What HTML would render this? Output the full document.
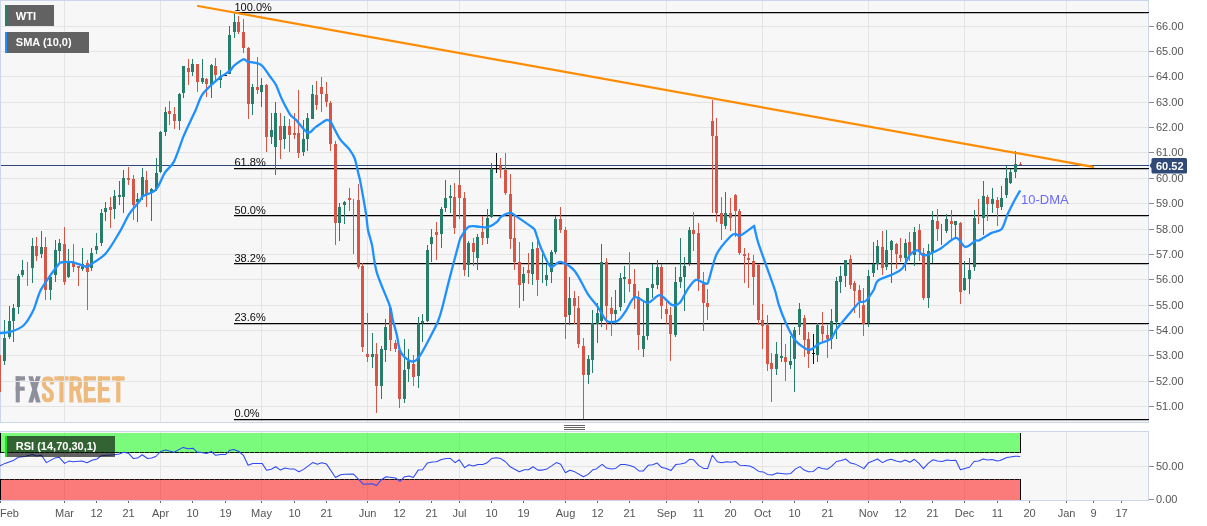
<!DOCTYPE html>
<html><head><meta charset="utf-8"><title>WTI</title>
<style>html,body{margin:0;padding:0;background:#fff;}body{width:1207px;height:526px;overflow:hidden;position:relative;font-family:"Liberation Sans",sans-serif;}</style>
</head><body>
<svg width="1207" height="526" viewBox="0 0 1207 526" style="position:absolute;left:0;top:0;font-family:'Liberation Sans',sans-serif">
<rect x="0" y="0" width="1207" height="526" fill="#ffffff"/>
<rect x="0" y="0" width="1149" height="423" fill="#f7f7f7"/>
<g id="logo">
<rect x="15.70" y="376.30" width="4.10" height="26.10" fill="#8e909d"/>
<rect x="15.70" y="376.30" width="9.30" height="4.20" fill="#8e909d"/>
<rect x="15.70" y="386.60" width="9.00" height="4.10" fill="#8e909d"/>
<polygon points="28.3,376.3 32.9,376.3 40.7,402.4 36.1,402.4" fill="#8e909d"/>
<polygon points="36.1,376.3 40.7,376.3 32.9,402.4 28.3,402.4" fill="#8e909d"/>
<path d="M51.9,384.6 V382.6 Q51.9,378.4 47.9,378.4 Q43.9,378.4 43.9,382.6 V384 Q43.9,386.6 47.9,389.3 Q51.9,392 51.9,394.8 V396.2 Q51.9,400.3 47.9,400.3 Q43.9,400.3 43.9,396.2 V393.6" fill="none" stroke="#edb97d" stroke-width="4.1"/>
<rect x="54.40" y="376.30" width="14.20" height="4.20" fill="#edb97d"/>
<rect x="59.40" y="376.30" width="4.20" height="26.10" fill="#edb97d"/>
<rect x="69.40" y="376.30" width="4.10" height="26.10" fill="#edb97d"/>
<path d="M71.4,378.4 H76 Q80,378.4 80,382.4 V384.6 Q80,388.6 76,388.6 H71.4" fill="none" stroke="#edb97d" stroke-width="4.1"/>
<polygon points="75.2,389.5 79.4,388.6 82.4,402.4 78.1,402.4" fill="#edb97d"/>
<rect x="83.80" y="376.30" width="4.10" height="26.10" fill="#edb97d"/>
<rect x="83.80" y="376.30" width="12.20" height="4.20" fill="#edb97d"/>
<rect x="83.80" y="387.00" width="11.00" height="4.10" fill="#edb97d"/>
<rect x="83.80" y="398.20" width="12.20" height="4.20" fill="#edb97d"/>
<rect x="97.90" y="376.30" width="4.10" height="26.10" fill="#edb97d"/>
<rect x="97.90" y="376.30" width="12.20" height="4.20" fill="#edb97d"/>
<rect x="97.90" y="387.00" width="11.00" height="4.10" fill="#edb97d"/>
<rect x="97.90" y="398.20" width="12.20" height="4.20" fill="#edb97d"/>
<rect x="111.90" y="376.30" width="12.80" height="4.20" fill="#edb97d"/>
<rect x="116.20" y="376.30" width="4.20" height="26.10" fill="#edb97d"/>
</g>
<g shape-rendering="crispEdges">
<rect x="0" y="431" width="1149" height="70" fill="#f7f7f7"/>
<rect x="1" y="26" width="1147" height="1" fill="#e4e4e4"/>
<rect x="1" y="51" width="1147" height="1" fill="#e4e4e4"/>
<rect x="1" y="76" width="1147" height="1" fill="#e4e4e4"/>
<rect x="1" y="102" width="1147" height="1" fill="#e4e4e4"/>
<rect x="1" y="127" width="1147" height="1" fill="#e4e4e4"/>
<rect x="1" y="152" width="1147" height="1" fill="#e4e4e4"/>
<rect x="1" y="178" width="1147" height="1" fill="#e4e4e4"/>
<rect x="1" y="203" width="1147" height="1" fill="#e4e4e4"/>
<rect x="1" y="229" width="1147" height="1" fill="#e4e4e4"/>
<rect x="1" y="254" width="1147" height="1" fill="#e4e4e4"/>
<rect x="1" y="279" width="1147" height="1" fill="#e4e4e4"/>
<rect x="1" y="305" width="1147" height="1" fill="#e4e4e4"/>
<rect x="1" y="330" width="1147" height="1" fill="#e4e4e4"/>
<rect x="1" y="355" width="1147" height="1" fill="#e4e4e4"/>
<rect x="1" y="381" width="1147" height="1" fill="#e4e4e4"/>
<rect x="1" y="406" width="1147" height="1" fill="#e4e4e4"/>
<rect x="64" y="1" width="1" height="421" fill="#e4e4e4"/>
<rect x="64" y="432" width="1" height="68" fill="#e4e4e4"/>
<rect x="160" y="1" width="1" height="421" fill="#e4e4e4"/>
<rect x="160" y="432" width="1" height="68" fill="#e4e4e4"/>
<rect x="261" y="1" width="1" height="421" fill="#e4e4e4"/>
<rect x="261" y="432" width="1" height="68" fill="#e4e4e4"/>
<rect x="367" y="1" width="1" height="421" fill="#e4e4e4"/>
<rect x="367" y="432" width="1" height="68" fill="#e4e4e4"/>
<rect x="459" y="1" width="1" height="421" fill="#e4e4e4"/>
<rect x="459" y="432" width="1" height="68" fill="#e4e4e4"/>
<rect x="565" y="1" width="1" height="421" fill="#e4e4e4"/>
<rect x="565" y="432" width="1" height="68" fill="#e4e4e4"/>
<rect x="666" y="1" width="1" height="421" fill="#e4e4e4"/>
<rect x="666" y="432" width="1" height="68" fill="#e4e4e4"/>
<rect x="762" y="1" width="1" height="421" fill="#e4e4e4"/>
<rect x="762" y="432" width="1" height="68" fill="#e4e4e4"/>
<rect x="868" y="1" width="1" height="421" fill="#e4e4e4"/>
<rect x="868" y="432" width="1" height="68" fill="#e4e4e4"/>
<rect x="964" y="1" width="1" height="421" fill="#e4e4e4"/>
<rect x="964" y="432" width="1" height="68" fill="#e4e4e4"/>
<rect x="1066" y="1" width="1" height="421" fill="#e4e4e4"/>
<rect x="1066" y="432" width="1" height="68" fill="#e4e4e4"/>
<rect x="1" y="466" width="1147" height="1" fill="#e4e4e4"/>
<rect x="0" y="0" width="1149" height="1" fill="#cdd5ea"/>
<rect x="0" y="0" width="1" height="423" fill="#cdd5ea"/>
<rect x="1148" y="0" width="1" height="423" fill="#cdd5ea"/>
<rect x="0" y="422" width="1149" height="1" fill="#cdd5ea"/>
<rect x="0" y="431" width="1149" height="1" fill="#cdd5ea"/>
<rect x="0" y="431" width="1" height="70" fill="#cdd5ea"/>
<rect x="1148" y="431" width="1" height="70" fill="#cdd5ea"/>
<rect x="0" y="500" width="1149" height="1" fill="#cdd5ea"/>
<rect x="564" y="425" width="21" height="1" fill="#666666"/>
<rect x="564" y="427" width="21" height="1" fill="#666666"/>
<rect x="564" y="429" width="21" height="1" fill="#666666"/>
<rect x="234" y="12" width="915" height="1" fill="#000000"/>
<rect x="234" y="13" width="914" height="1" fill="#000000" opacity="0.25"/>
<rect x="234" y="168" width="915" height="1" fill="#000000"/>
<rect x="234" y="169" width="914" height="1" fill="#000000" opacity="0.25"/>
<rect x="234" y="215" width="915" height="1" fill="#000000"/>
<rect x="234" y="216" width="914" height="1" fill="#000000" opacity="0.25"/>
<rect x="234" y="263" width="915" height="1" fill="#000000"/>
<rect x="234" y="264" width="914" height="1" fill="#000000" opacity="0.25"/>
<rect x="234" y="323" width="915" height="1" fill="#000000"/>
<rect x="234" y="324" width="914" height="1" fill="#000000" opacity="0.25"/>
<rect x="234" y="419" width="915" height="1" fill="#000000"/>
<rect x="234" y="420" width="914" height="1" fill="#000000" opacity="0.25"/>
<rect x="1" y="165" width="1148" height="1" fill="#2f4a76"/>
<rect x="-1" y="355" width="1" height="37" fill="#d75546"/>
<rect x="0" y="355" width="1" height="37" fill="#d75546"/>
<rect x="4" y="320" width="1" height="45" fill="#267d69"/>
<rect x="3" y="338" width="3" height="23" fill="#267d69"/>
<rect x="9" y="306" width="1" height="33" fill="#267d69"/>
<rect x="8" y="321" width="3" height="16" fill="#267d69"/>
<rect x="13" y="304" width="1" height="38" fill="#267d69"/>
<rect x="12" y="308" width="3" height="13" fill="#267d69"/>
<rect x="18" y="274" width="1" height="40" fill="#267d69"/>
<rect x="17" y="276" width="3" height="31" fill="#267d69"/>
<rect x="22" y="260" width="1" height="17" fill="#267d69"/>
<rect x="21" y="270" width="3" height="5" fill="#267d69"/>
<rect x="27" y="262" width="1" height="24" fill="#d75546"/>
<rect x="32" y="238" width="1" height="45" fill="#267d69"/>
<rect x="31" y="246" width="3" height="22" fill="#267d69"/>
<rect x="36" y="237" width="1" height="24" fill="#d75546"/>
<rect x="35" y="246" width="3" height="10" fill="#d75546"/>
<rect x="41" y="231" width="1" height="27" fill="#267d69"/>
<rect x="40" y="247" width="3" height="7" fill="#267d69"/>
<rect x="45" y="237" width="1" height="63" fill="#d75546"/>
<rect x="44" y="247" width="3" height="43" fill="#d75546"/>
<rect x="50" y="275" width="1" height="25" fill="#267d69"/>
<rect x="49" y="277" width="3" height="13" fill="#267d69"/>
<rect x="55" y="240" width="1" height="42" fill="#267d69"/>
<rect x="54" y="250" width="3" height="25" fill="#267d69"/>
<rect x="59" y="239" width="1" height="23" fill="#267d69"/>
<rect x="58" y="243" width="3" height="8" fill="#267d69"/>
<rect x="64" y="227" width="1" height="58" fill="#d75546"/>
<rect x="63" y="244" width="3" height="38" fill="#d75546"/>
<rect x="68" y="249" width="1" height="29" fill="#267d69"/>
<rect x="67" y="261" width="3" height="16" fill="#267d69"/>
<rect x="73" y="244" width="1" height="28" fill="#d75546"/>
<rect x="72" y="263" width="3" height="4" fill="#d75546"/>
<rect x="78" y="266" width="1" height="20" fill="#d75546"/>
<rect x="77" y="266" width="3" height="2" fill="#d75546"/>
<rect x="82" y="248" width="1" height="23" fill="#267d69"/>
<rect x="81" y="264" width="3" height="5" fill="#267d69"/>
<rect x="87" y="260" width="1" height="50" fill="#d75546"/>
<rect x="86" y="263" width="3" height="9" fill="#d75546"/>
<rect x="91" y="248" width="1" height="23" fill="#267d69"/>
<rect x="90" y="253" width="3" height="15" fill="#267d69"/>
<rect x="96" y="233" width="1" height="21" fill="#267d69"/>
<rect x="95" y="246" width="3" height="4" fill="#267d69"/>
<rect x="101" y="209" width="1" height="37" fill="#267d69"/>
<rect x="100" y="213" width="3" height="30" fill="#267d69"/>
<rect x="105" y="202" width="1" height="19" fill="#267d69"/>
<rect x="104" y="208" width="3" height="4" fill="#267d69"/>
<rect x="110" y="197" width="1" height="31" fill="#d75546"/>
<rect x="109" y="207" width="3" height="3" fill="#d75546"/>
<rect x="114" y="190" width="1" height="29" fill="#267d69"/>
<rect x="113" y="196" width="3" height="13" fill="#267d69"/>
<rect x="119" y="181" width="1" height="24" fill="#267d69"/>
<rect x="118" y="195" width="3" height="2" fill="#267d69"/>
<rect x="123" y="170" width="1" height="43" fill="#267d69"/>
<rect x="122" y="178" width="3" height="19" fill="#267d69"/>
<rect x="128" y="167" width="1" height="18" fill="#d75546"/>
<rect x="127" y="178" width="3" height="2" fill="#d75546"/>
<rect x="133" y="175" width="1" height="45" fill="#d75546"/>
<rect x="132" y="179" width="3" height="26" fill="#d75546"/>
<rect x="137" y="193" width="1" height="29" fill="#267d69"/>
<rect x="136" y="199" width="3" height="3" fill="#267d69"/>
<rect x="142" y="168" width="1" height="32" fill="#267d69"/>
<rect x="141" y="177" width="3" height="20" fill="#267d69"/>
<rect x="146" y="171" width="1" height="36" fill="#d75546"/>
<rect x="145" y="180" width="3" height="14" fill="#d75546"/>
<rect x="151" y="188" width="1" height="33" fill="#267d69"/>
<rect x="150" y="189" width="3" height="4" fill="#267d69"/>
<rect x="156" y="158" width="1" height="33" fill="#267d69"/>
<rect x="155" y="173" width="3" height="16" fill="#267d69"/>
<rect x="160" y="131" width="1" height="42" fill="#267d69"/>
<rect x="159" y="132" width="3" height="40" fill="#267d69"/>
<rect x="165" y="107" width="1" height="29" fill="#267d69"/>
<rect x="164" y="112" width="3" height="20" fill="#267d69"/>
<rect x="169" y="101" width="1" height="24" fill="#d75546"/>
<rect x="168" y="111" width="3" height="3" fill="#d75546"/>
<rect x="174" y="107" width="1" height="22" fill="#d75546"/>
<rect x="173" y="114" width="3" height="7" fill="#d75546"/>
<rect x="179" y="93" width="1" height="37" fill="#267d69"/>
<rect x="178" y="94" width="3" height="27" fill="#267d69"/>
<rect x="183" y="66" width="1" height="32" fill="#267d69"/>
<rect x="182" y="66" width="3" height="27" fill="#267d69"/>
<rect x="188" y="59" width="1" height="26" fill="#d75546"/>
<rect x="187" y="68" width="3" height="4" fill="#d75546"/>
<rect x="192" y="59" width="1" height="17" fill="#267d69"/>
<rect x="191" y="64" width="3" height="8" fill="#267d69"/>
<rect x="197" y="64" width="1" height="28" fill="#d75546"/>
<rect x="196" y="64" width="3" height="18" fill="#d75546"/>
<rect x="202" y="59" width="1" height="25" fill="#267d69"/>
<rect x="201" y="78" width="3" height="4" fill="#267d69"/>
<rect x="206" y="78" width="1" height="19" fill="#d75546"/>
<rect x="205" y="79" width="3" height="5" fill="#d75546"/>
<rect x="211" y="64" width="1" height="34" fill="#267d69"/>
<rect x="210" y="65" width="3" height="20" fill="#267d69"/>
<rect x="215" y="58" width="1" height="22" fill="#d75546"/>
<rect x="214" y="66" width="3" height="9" fill="#d75546"/>
<rect x="220" y="70" width="1" height="18" fill="#267d69"/>
<rect x="219" y="76" width="3" height="4" fill="#267d69"/>
<rect x="225" y="75" width="1" height="1" fill="#111111"/>
<rect x="224" y="75" width="3" height="1" fill="#111111"/>
<rect x="229" y="26" width="1" height="48" fill="#267d69"/>
<rect x="228" y="35" width="3" height="39" fill="#267d69"/>
<rect x="234" y="13" width="1" height="25" fill="#267d69"/>
<rect x="233" y="22" width="3" height="10" fill="#267d69"/>
<rect x="238" y="16" width="1" height="18" fill="#d75546"/>
<rect x="237" y="22" width="3" height="10" fill="#d75546"/>
<rect x="243" y="19" width="1" height="34" fill="#d75546"/>
<rect x="242" y="32" width="3" height="16" fill="#d75546"/>
<rect x="248" y="47" width="1" height="72" fill="#d75546"/>
<rect x="247" y="48" width="3" height="56" fill="#d75546"/>
<rect x="252" y="84" width="1" height="31" fill="#267d69"/>
<rect x="251" y="87" width="3" height="17" fill="#267d69"/>
<rect x="257" y="57" width="1" height="37" fill="#d75546"/>
<rect x="256" y="87" width="3" height="3" fill="#d75546"/>
<rect x="261" y="78" width="1" height="29" fill="#267d69"/>
<rect x="260" y="85" width="3" height="7" fill="#267d69"/>
<rect x="266" y="84" width="1" height="68" fill="#d75546"/>
<rect x="265" y="85" width="3" height="52" fill="#d75546"/>
<rect x="271" y="113" width="1" height="31" fill="#267d69"/>
<rect x="270" y="130" width="3" height="7" fill="#267d69"/>
<rect x="275" y="102" width="1" height="73" fill="#267d69"/>
<rect x="274" y="113" width="3" height="34" fill="#267d69"/>
<rect x="280" y="113" width="1" height="46" fill="#d75546"/>
<rect x="279" y="126" width="3" height="14" fill="#d75546"/>
<rect x="284" y="116" width="1" height="33" fill="#267d69"/>
<rect x="283" y="126" width="3" height="13" fill="#267d69"/>
<rect x="289" y="119" width="1" height="33" fill="#d75546"/>
<rect x="288" y="126" width="3" height="9" fill="#d75546"/>
<rect x="294" y="113" width="1" height="26" fill="#d75546"/>
<rect x="293" y="133" width="3" height="2" fill="#d75546"/>
<rect x="298" y="90" width="1" height="68" fill="#d75546"/>
<rect x="297" y="133" width="3" height="20" fill="#d75546"/>
<rect x="303" y="120" width="1" height="36" fill="#267d69"/>
<rect x="302" y="139" width="3" height="13" fill="#267d69"/>
<rect x="307" y="113" width="1" height="38" fill="#267d69"/>
<rect x="306" y="118" width="3" height="21" fill="#267d69"/>
<rect x="312" y="85" width="1" height="34" fill="#267d69"/>
<rect x="311" y="94" width="3" height="25" fill="#267d69"/>
<rect x="316" y="81" width="1" height="29" fill="#d75546"/>
<rect x="315" y="95" width="3" height="10" fill="#d75546"/>
<rect x="321" y="77" width="1" height="35" fill="#d75546"/>
<rect x="320" y="87" width="3" height="7" fill="#d75546"/>
<rect x="326" y="82" width="1" height="25" fill="#d75546"/>
<rect x="325" y="94" width="3" height="8" fill="#d75546"/>
<rect x="330" y="101" width="1" height="50" fill="#d75546"/>
<rect x="329" y="103" width="3" height="41" fill="#d75546"/>
<rect x="335" y="141" width="1" height="104" fill="#d75546"/>
<rect x="334" y="144" width="3" height="79" fill="#d75546"/>
<rect x="339" y="203" width="1" height="38" fill="#267d69"/>
<rect x="338" y="207" width="3" height="16" fill="#267d69"/>
<rect x="344" y="201" width="1" height="23" fill="#267d69"/>
<rect x="343" y="202" width="3" height="3" fill="#267d69"/>
<rect x="349" y="188" width="1" height="23" fill="#d75546"/>
<rect x="348" y="198" width="3" height="2" fill="#d75546"/>
<rect x="353" y="199" width="1" height="55" fill="#d75546"/>
<rect x="358" y="184" width="1" height="85" fill="#d75546"/>
<rect x="357" y="200" width="3" height="67" fill="#d75546"/>
<rect x="362" y="263" width="1" height="89" fill="#d75546"/>
<rect x="361" y="266" width="3" height="81" fill="#d75546"/>
<rect x="367" y="313" width="1" height="49" fill="#d75546"/>
<rect x="366" y="354" width="3" height="3" fill="#d75546"/>
<rect x="372" y="333" width="1" height="35" fill="#267d69"/>
<rect x="371" y="354" width="3" height="3" fill="#267d69"/>
<rect x="376" y="343" width="1" height="70" fill="#d75546"/>
<rect x="375" y="354" width="3" height="32" fill="#d75546"/>
<rect x="381" y="346" width="1" height="53" fill="#267d69"/>
<rect x="380" y="349" width="3" height="37" fill="#267d69"/>
<rect x="385" y="319" width="1" height="43" fill="#267d69"/>
<rect x="384" y="327" width="3" height="23" fill="#267d69"/>
<rect x="390" y="306" width="1" height="45" fill="#d75546"/>
<rect x="389" y="308" width="3" height="32" fill="#d75546"/>
<rect x="395" y="340" width="1" height="12" fill="#d75546"/>
<rect x="394" y="343" width="3" height="6" fill="#d75546"/>
<rect x="399" y="349" width="1" height="59" fill="#d75546"/>
<rect x="398" y="350" width="3" height="49" fill="#d75546"/>
<rect x="404" y="339" width="1" height="64" fill="#267d69"/>
<rect x="403" y="370" width="3" height="29" fill="#267d69"/>
<rect x="408" y="349" width="1" height="33" fill="#267d69"/>
<rect x="407" y="361" width="3" height="8" fill="#267d69"/>
<rect x="413" y="355" width="1" height="31" fill="#d75546"/>
<rect x="412" y="364" width="3" height="13" fill="#d75546"/>
<rect x="418" y="317" width="1" height="71" fill="#267d69"/>
<rect x="417" y="324" width="3" height="52" fill="#267d69"/>
<rect x="422" y="314" width="1" height="28" fill="#267d69"/>
<rect x="421" y="321" width="3" height="2" fill="#267d69"/>
<rect x="427" y="245" width="1" height="77" fill="#267d69"/>
<rect x="426" y="250" width="3" height="71" fill="#267d69"/>
<rect x="431" y="229" width="1" height="33" fill="#267d69"/>
<rect x="430" y="237" width="3" height="7" fill="#267d69"/>
<rect x="436" y="222" width="1" height="38" fill="#d75546"/>
<rect x="435" y="232" width="3" height="3" fill="#d75546"/>
<rect x="441" y="207" width="1" height="41" fill="#267d69"/>
<rect x="440" y="209" width="3" height="25" fill="#267d69"/>
<rect x="445" y="180" width="1" height="32" fill="#267d69"/>
<rect x="444" y="198" width="3" height="10" fill="#267d69"/>
<rect x="450" y="185" width="1" height="28" fill="#267d69"/>
<rect x="449" y="196" width="3" height="2" fill="#267d69"/>
<rect x="454" y="183" width="1" height="51" fill="#d75546"/>
<rect x="453" y="197" width="3" height="31" fill="#d75546"/>
<rect x="459" y="170" width="1" height="49" fill="#d75546"/>
<rect x="458" y="185" width="3" height="13" fill="#d75546"/>
<rect x="464" y="192" width="1" height="84" fill="#d75546"/>
<rect x="463" y="198" width="3" height="72" fill="#d75546"/>
<rect x="468" y="241" width="1" height="36" fill="#267d69"/>
<rect x="467" y="243" width="3" height="22" fill="#267d69"/>
<rect x="473" y="238" width="1" height="28" fill="#d75546"/>
<rect x="472" y="243" width="3" height="9" fill="#d75546"/>
<rect x="477" y="234" width="1" height="36" fill="#267d69"/>
<rect x="476" y="237" width="3" height="21" fill="#267d69"/>
<rect x="482" y="216" width="1" height="29" fill="#d75546"/>
<rect x="481" y="232" width="3" height="6" fill="#d75546"/>
<rect x="487" y="209" width="1" height="35" fill="#267d69"/>
<rect x="486" y="218" width="3" height="20" fill="#267d69"/>
<rect x="491" y="163" width="1" height="55" fill="#267d69"/>
<rect x="490" y="169" width="3" height="48" fill="#267d69"/>
<rect x="496" y="153" width="1" height="20" fill="#111111"/>
<rect x="495" y="165" width="3" height="1" fill="#111111"/>
<rect x="500" y="158" width="1" height="20" fill="#d75546"/>
<rect x="499" y="166" width="3" height="4" fill="#d75546"/>
<rect x="505" y="153" width="1" height="42" fill="#d75546"/>
<rect x="504" y="170" width="3" height="23" fill="#d75546"/>
<rect x="510" y="174" width="1" height="75" fill="#d75546"/>
<rect x="509" y="194" width="3" height="45" fill="#d75546"/>
<rect x="514" y="215" width="1" height="55" fill="#d75546"/>
<rect x="513" y="238" width="3" height="24" fill="#d75546"/>
<rect x="519" y="242" width="1" height="66" fill="#d75546"/>
<rect x="518" y="262" width="3" height="23" fill="#d75546"/>
<rect x="523" y="267" width="1" height="34" fill="#267d69"/>
<rect x="522" y="274" width="3" height="9" fill="#267d69"/>
<rect x="528" y="253" width="1" height="31" fill="#d75546"/>
<rect x="527" y="270" width="3" height="3" fill="#d75546"/>
<rect x="532" y="242" width="1" height="43" fill="#267d69"/>
<rect x="531" y="249" width="3" height="25" fill="#267d69"/>
<rect x="537" y="240" width="1" height="56" fill="#d75546"/>
<rect x="536" y="248" width="3" height="32" fill="#d75546"/>
<rect x="542" y="254" width="1" height="29" fill="#267d69"/>
<rect x="546" y="264" width="1" height="22" fill="#267d69"/>
<rect x="545" y="275" width="3" height="5" fill="#267d69"/>
<rect x="551" y="250" width="1" height="33" fill="#267d69"/>
<rect x="550" y="252" width="3" height="20" fill="#267d69"/>
<rect x="555" y="216" width="1" height="38" fill="#267d69"/>
<rect x="554" y="219" width="3" height="33" fill="#267d69"/>
<rect x="560" y="207" width="1" height="26" fill="#d75546"/>
<rect x="559" y="219" width="3" height="11" fill="#d75546"/>
<rect x="565" y="227" width="1" height="112" fill="#d75546"/>
<rect x="564" y="230" width="3" height="87" fill="#d75546"/>
<rect x="569" y="277" width="1" height="48" fill="#267d69"/>
<rect x="568" y="298" width="3" height="17" fill="#267d69"/>
<rect x="574" y="291" width="1" height="33" fill="#d75546"/>
<rect x="573" y="298" width="3" height="8" fill="#d75546"/>
<rect x="578" y="296" width="1" height="52" fill="#d75546"/>
<rect x="577" y="308" width="3" height="36" fill="#d75546"/>
<rect x="583" y="338" width="1" height="81" fill="#d75546"/>
<rect x="582" y="346" width="3" height="29" fill="#d75546"/>
<rect x="588" y="355" width="1" height="29" fill="#267d69"/>
<rect x="587" y="359" width="3" height="16" fill="#267d69"/>
<rect x="592" y="310" width="1" height="63" fill="#267d69"/>
<rect x="591" y="323" width="3" height="37" fill="#267d69"/>
<rect x="597" y="303" width="1" height="40" fill="#267d69"/>
<rect x="596" y="313" width="3" height="11" fill="#267d69"/>
<rect x="601" y="244" width="1" height="83" fill="#267d69"/>
<rect x="600" y="262" width="3" height="59" fill="#267d69"/>
<rect x="606" y="258" width="1" height="72" fill="#d75546"/>
<rect x="605" y="262" width="3" height="44" fill="#d75546"/>
<rect x="611" y="297" width="1" height="39" fill="#d75546"/>
<rect x="610" y="308" width="3" height="6" fill="#d75546"/>
<rect x="615" y="290" width="1" height="35" fill="#267d69"/>
<rect x="614" y="310" width="3" height="4" fill="#267d69"/>
<rect x="620" y="273" width="1" height="38" fill="#267d69"/>
<rect x="619" y="278" width="3" height="29" fill="#267d69"/>
<rect x="624" y="266" width="1" height="37" fill="#267d69"/>
<rect x="623" y="277" width="3" height="2" fill="#267d69"/>
<rect x="629" y="252" width="1" height="40" fill="#d75546"/>
<rect x="628" y="279" width="3" height="5" fill="#d75546"/>
<rect x="634" y="269" width="1" height="40" fill="#d75546"/>
<rect x="633" y="284" width="3" height="14" fill="#d75546"/>
<rect x="638" y="291" width="1" height="59" fill="#d75546"/>
<rect x="637" y="297" width="3" height="38" fill="#d75546"/>
<rect x="643" y="302" width="1" height="55" fill="#267d69"/>
<rect x="642" y="336" width="3" height="13" fill="#267d69"/>
<rect x="647" y="288" width="1" height="52" fill="#267d69"/>
<rect x="646" y="288" width="3" height="48" fill="#267d69"/>
<rect x="652" y="264" width="1" height="34" fill="#267d69"/>
<rect x="651" y="284" width="3" height="4" fill="#267d69"/>
<rect x="657" y="260" width="1" height="29" fill="#267d69"/>
<rect x="656" y="267" width="3" height="18" fill="#267d69"/>
<rect x="661" y="264" width="1" height="55" fill="#d75546"/>
<rect x="660" y="267" width="3" height="39" fill="#d75546"/>
<rect x="666" y="302" width="1" height="22" fill="#d75546"/>
<rect x="665" y="309" width="3" height="5" fill="#d75546"/>
<rect x="670" y="307" width="1" height="54" fill="#d75546"/>
<rect x="669" y="315" width="3" height="19" fill="#d75546"/>
<rect x="675" y="267" width="1" height="70" fill="#267d69"/>
<rect x="674" y="282" width="3" height="53" fill="#267d69"/>
<rect x="680" y="238" width="1" height="50" fill="#267d69"/>
<rect x="679" y="277" width="3" height="5" fill="#267d69"/>
<rect x="684" y="257" width="1" height="54" fill="#267d69"/>
<rect x="683" y="266" width="3" height="11" fill="#267d69"/>
<rect x="689" y="227" width="1" height="39" fill="#267d69"/>
<rect x="688" y="230" width="3" height="33" fill="#267d69"/>
<rect x="693" y="212" width="1" height="39" fill="#d75546"/>
<rect x="692" y="230" width="3" height="4" fill="#d75546"/>
<rect x="698" y="223" width="1" height="68" fill="#d75546"/>
<rect x="697" y="233" width="3" height="46" fill="#d75546"/>
<rect x="703" y="272" width="1" height="59" fill="#d75546"/>
<rect x="702" y="284" width="3" height="19" fill="#d75546"/>
<rect x="707" y="289" width="1" height="31" fill="#d75546"/>
<rect x="706" y="303" width="3" height="4" fill="#d75546"/>
<rect x="712" y="100" width="1" height="113" fill="#d75546"/>
<rect x="711" y="121" width="3" height="15" fill="#d75546"/>
<rect x="716" y="118" width="1" height="104" fill="#d75546"/>
<rect x="715" y="136" width="3" height="77" fill="#d75546"/>
<rect x="721" y="197" width="1" height="43" fill="#d75546"/>
<rect x="720" y="213" width="3" height="11" fill="#d75546"/>
<rect x="725" y="192" width="1" height="37" fill="#267d69"/>
<rect x="724" y="213" width="3" height="13" fill="#267d69"/>
<rect x="730" y="198" width="1" height="33" fill="#d75546"/>
<rect x="729" y="213" width="3" height="5" fill="#d75546"/>
<rect x="735" y="194" width="1" height="43" fill="#d75546"/>
<rect x="734" y="195" width="3" height="16" fill="#d75546"/>
<rect x="739" y="209" width="1" height="46" fill="#d75546"/>
<rect x="738" y="211" width="3" height="42" fill="#d75546"/>
<rect x="744" y="248" width="1" height="35" fill="#d75546"/>
<rect x="743" y="254" width="3" height="2" fill="#d75546"/>
<rect x="748" y="253" width="1" height="35" fill="#d75546"/>
<rect x="747" y="258" width="3" height="2" fill="#d75546"/>
<rect x="753" y="255" width="1" height="50" fill="#d75546"/>
<rect x="752" y="261" width="3" height="16" fill="#d75546"/>
<rect x="758" y="264" width="1" height="61" fill="#d75546"/>
<rect x="757" y="265" width="3" height="55" fill="#d75546"/>
<rect x="762" y="304" width="1" height="45" fill="#d75546"/>
<rect x="761" y="320" width="3" height="6" fill="#d75546"/>
<rect x="767" y="315" width="1" height="56" fill="#d75546"/>
<rect x="766" y="325" width="3" height="39" fill="#d75546"/>
<rect x="771" y="353" width="1" height="49" fill="#d75546"/>
<rect x="770" y="363" width="3" height="6" fill="#d75546"/>
<rect x="776" y="342" width="1" height="33" fill="#267d69"/>
<rect x="775" y="354" width="3" height="15" fill="#267d69"/>
<rect x="781" y="324" width="1" height="38" fill="#267d69"/>
<rect x="780" y="356" width="3" height="2" fill="#267d69"/>
<rect x="785" y="344" width="1" height="37" fill="#d75546"/>
<rect x="784" y="357" width="3" height="5" fill="#d75546"/>
<rect x="790" y="336" width="1" height="33" fill="#267d69"/>
<rect x="789" y="361" width="3" height="4" fill="#267d69"/>
<rect x="794" y="327" width="1" height="65" fill="#267d69"/>
<rect x="793" y="330" width="3" height="29" fill="#267d69"/>
<rect x="799" y="303" width="1" height="32" fill="#267d69"/>
<rect x="798" y="309" width="3" height="18" fill="#267d69"/>
<rect x="804" y="315" width="1" height="42" fill="#d75546"/>
<rect x="803" y="318" width="3" height="22" fill="#d75546"/>
<rect x="808" y="332" width="1" height="36" fill="#d75546"/>
<rect x="807" y="339" width="3" height="15" fill="#d75546"/>
<rect x="813" y="334" width="1" height="30" fill="#111111"/>
<rect x="812" y="353" width="3" height="1" fill="#111111"/>
<rect x="817" y="323" width="1" height="39" fill="#267d69"/>
<rect x="816" y="325" width="3" height="30" fill="#267d69"/>
<rect x="822" y="312" width="1" height="30" fill="#d75546"/>
<rect x="821" y="326" width="3" height="8" fill="#d75546"/>
<rect x="827" y="325" width="1" height="33" fill="#d75546"/>
<rect x="826" y="335" width="3" height="4" fill="#d75546"/>
<rect x="831" y="309" width="1" height="40" fill="#267d69"/>
<rect x="830" y="321" width="3" height="18" fill="#267d69"/>
<rect x="836" y="277" width="1" height="62" fill="#267d69"/>
<rect x="835" y="281" width="3" height="41" fill="#267d69"/>
<rect x="840" y="266" width="1" height="27" fill="#267d69"/>
<rect x="839" y="276" width="3" height="6" fill="#267d69"/>
<rect x="845" y="260" width="1" height="27" fill="#267d69"/>
<rect x="844" y="260" width="3" height="16" fill="#267d69"/>
<rect x="850" y="255" width="1" height="34" fill="#d75546"/>
<rect x="849" y="259" width="3" height="26" fill="#d75546"/>
<rect x="854" y="281" width="1" height="32" fill="#d75546"/>
<rect x="853" y="283" width="3" height="8" fill="#d75546"/>
<rect x="859" y="285" width="1" height="33" fill="#d75546"/>
<rect x="858" y="290" width="3" height="11" fill="#d75546"/>
<rect x="863" y="288" width="1" height="48" fill="#d75546"/>
<rect x="862" y="305" width="3" height="19" fill="#d75546"/>
<rect x="868" y="270" width="1" height="57" fill="#267d69"/>
<rect x="867" y="276" width="3" height="47" fill="#267d69"/>
<rect x="873" y="242" width="1" height="35" fill="#267d69"/>
<rect x="872" y="264" width="3" height="9" fill="#267d69"/>
<rect x="877" y="240" width="1" height="30" fill="#267d69"/>
<rect x="876" y="246" width="3" height="18" fill="#267d69"/>
<rect x="882" y="231" width="1" height="44" fill="#d75546"/>
<rect x="881" y="247" width="3" height="21" fill="#d75546"/>
<rect x="886" y="230" width="1" height="40" fill="#267d69"/>
<rect x="885" y="250" width="3" height="17" fill="#267d69"/>
<rect x="891" y="240" width="1" height="43" fill="#267d69"/>
<rect x="890" y="241" width="3" height="9" fill="#267d69"/>
<rect x="896" y="243" width="1" height="26" fill="#d75546"/>
<rect x="895" y="244" width="3" height="10" fill="#d75546"/>
<rect x="900" y="238" width="1" height="24" fill="#d75546"/>
<rect x="899" y="255" width="3" height="3" fill="#d75546"/>
<rect x="905" y="239" width="1" height="32" fill="#267d69"/>
<rect x="904" y="243" width="3" height="15" fill="#267d69"/>
<rect x="909" y="232" width="1" height="29" fill="#d75546"/>
<rect x="908" y="242" width="3" height="13" fill="#d75546"/>
<rect x="914" y="227" width="1" height="39" fill="#267d69"/>
<rect x="913" y="232" width="3" height="23" fill="#267d69"/>
<rect x="919" y="224" width="1" height="37" fill="#d75546"/>
<rect x="918" y="230" width="3" height="22" fill="#d75546"/>
<rect x="923" y="248" width="1" height="52" fill="#d75546"/>
<rect x="922" y="253" width="3" height="45" fill="#d75546"/>
<rect x="928" y="244" width="1" height="64" fill="#267d69"/>
<rect x="927" y="251" width="3" height="47" fill="#267d69"/>
<rect x="932" y="211" width="1" height="52" fill="#267d69"/>
<rect x="931" y="220" width="3" height="32" fill="#267d69"/>
<rect x="937" y="209" width="1" height="32" fill="#d75546"/>
<rect x="936" y="221" width="3" height="8" fill="#d75546"/>
<rect x="941" y="224" width="1" height="21" fill="#267d69"/>
<rect x="946" y="214" width="1" height="19" fill="#267d69"/>
<rect x="945" y="219" width="3" height="12" fill="#267d69"/>
<rect x="951" y="210" width="1" height="30" fill="#d75546"/>
<rect x="950" y="221" width="3" height="3" fill="#d75546"/>
<rect x="955" y="221" width="1" height="16" fill="#267d69"/>
<rect x="954" y="221" width="3" height="4" fill="#267d69"/>
<rect x="960" y="222" width="1" height="82" fill="#d75546"/>
<rect x="959" y="223" width="3" height="69" fill="#d75546"/>
<rect x="964" y="261" width="1" height="30" fill="#267d69"/>
<rect x="963" y="278" width="3" height="12" fill="#267d69"/>
<rect x="969" y="258" width="1" height="36" fill="#267d69"/>
<rect x="968" y="270" width="3" height="9" fill="#267d69"/>
<rect x="974" y="210" width="1" height="61" fill="#267d69"/>
<rect x="973" y="218" width="3" height="49" fill="#267d69"/>
<rect x="978" y="199" width="1" height="25" fill="#d75546"/>
<rect x="983" y="181" width="1" height="54" fill="#267d69"/>
<rect x="982" y="196" width="3" height="22" fill="#267d69"/>
<rect x="987" y="195" width="1" height="26" fill="#d75546"/>
<rect x="986" y="197" width="3" height="7" fill="#d75546"/>
<rect x="992" y="188" width="1" height="25" fill="#267d69"/>
<rect x="991" y="199" width="3" height="5" fill="#267d69"/>
<rect x="997" y="197" width="1" height="29" fill="#d75546"/>
<rect x="996" y="200" width="3" height="8" fill="#d75546"/>
<rect x="1001" y="186" width="1" height="24" fill="#267d69"/>
<rect x="1000" y="198" width="3" height="9" fill="#267d69"/>
<rect x="1006" y="166" width="1" height="32" fill="#267d69"/>
<rect x="1005" y="178" width="3" height="17" fill="#267d69"/>
<rect x="1010" y="169" width="1" height="15" fill="#267d69"/>
<rect x="1009" y="172" width="3" height="11" fill="#267d69"/>
<rect x="1015" y="151" width="1" height="27" fill="#267d69"/>
<rect x="1014" y="164" width="3" height="8" fill="#267d69"/>
<rect x="1020" y="162" width="1" height="3" fill="#d75546"/>
<rect x="1019" y="164" width="3" height="1" fill="#d75546"/>
<rect x="1" y="433" width="1020" height="20" fill="#00ff00" fill-opacity="0.5"/>
<rect x="1" y="479" width="1020" height="21" fill="#ff0000" fill-opacity="0.5"/>
<rect x="0" y="433" width="1" height="20" fill="#000"/>
<rect x="1020" y="433" width="1" height="20" fill="#000"/>
<rect x="0" y="479" width="1" height="21" fill="#000"/>
<rect x="1020" y="479" width="1" height="21" fill="#000"/>
</g>
<path d="M0,452.5 H1021" stroke="#000" stroke-opacity="0.5" stroke-width="1" fill="none" shape-rendering="crispEdges"/>
<path d="M0,452.5 H1021" stroke="#000" stroke-opacity="0.8" stroke-width="1" stroke-dasharray="4,1" fill="none" shape-rendering="crispEdges"/>
<path d="M0,479.5 H1021" stroke="#000" stroke-opacity="0.5" stroke-width="1" fill="none" shape-rendering="crispEdges"/>
<path d="M0,479.5 H1021" stroke="#000" stroke-opacity="0.8" stroke-width="1" stroke-dasharray="4,1" fill="none" shape-rendering="crispEdges"/>
<polyline points="0.0,465.9 5.0,463.4 13.3,460.6 18.2,457.3 24.9,456.5 32.3,454.5 36.5,456.0 41.4,455.3 46.4,462.6 54.7,458.1 59.3,457.3 64.6,463.4 68.8,461.1 72.9,461.8 82.0,461.1 87.0,462.8 92.0,460.3 96.9,459.0 101.4,455.7 114.3,454.8 119.3,454.0 123.4,452.3 128.4,453.2 133.4,458.6 137.5,458.1 142.2,454.8 147.5,458.5 151.6,458.1 155.8,456.5 160.7,451.5 165.7,449.9 174.0,452.3 183.1,447.4 188.1,448.7 193.0,448.2 197.2,452.3 200.0,452.3 206.6,453.5 211.3,451.5 215.7,455.3 220.7,454.5 225.7,454.5 229.8,450.2 234.0,449.4 238.9,451.5 243.4,455.3 248.1,465.3 252.7,463.4 262.1,463.4 266.6,470.2 271.3,469.2 275.7,466.8 280.4,470.1 285.0,468.1 289.5,468.9 294.1,468.9 298.9,471.7 303.6,469.4 312.7,462.6 317.3,464.3 321.8,462.8 326.4,463.9 335.5,477.5 340.5,474.7 345.0,474.2 353.3,473.9 363.2,484.2 372.3,483.8 376.5,485.5 381.4,479.7 386.1,476.7 395.5,478.0 400.0,481.3 404.6,476.7 409.1,476.0 413.3,477.5 418.2,470.1 422.4,469.7 427.3,463.1 432.3,462.0 436.5,461.8 441.4,459.5 446.4,458.5 450.5,458.6 455.2,462.6 459.3,459.8 464.6,467.6 468.8,464.8 473.4,465.9 477.9,464.4 482.9,464.4 487.0,462.8 491.6,458.6 496.1,457.8 500.7,458.6 505.2,461.5 510.2,466.8 519.3,471.7 524.3,469.7 528.4,469.7 533.1,466.8 537.9,470.1 542.5,470.1 547.1,468.9 551.6,465.9 556.3,462.6 560.7,464.3 565.4,472.7 569.8,470.2 574.0,471.4 583.4,476.7 588.1,474.4 593.0,469.7 596.4,468.9 600.0,465.9 602.2,464.3 606.6,468.1 611.3,468.9 615.7,468.4 620.7,464.4 624.9,464.4 629.8,465.6 634.0,466.9 638.9,470.9 643.1,471.1 648.1,465.3 652.7,464.8 657.2,463.1 661.8,467.6 666.3,468.6 670.9,470.6 675.9,464.4 680.4,463.9 685.0,463.1 689.5,459.3 693.6,459.8 698.9,465.6 703.6,468.4 707.7,468.4 712.3,455.2 717.3,461.8 721.8,462.8 726.4,461.8 730.9,462.3 735.5,461.5 740.0,465.3 745.0,465.6 749.6,466.1 754.1,468.1 758.7,471.4 763.2,471.9 767.4,474.4 772.3,475.0 777.0,473.1 781.4,473.4 786.1,473.9 790.6,473.6 795.5,468.9 800.0,466.6 804.1,470.1 808.6,471.7 813.3,471.4 818.2,467.3 822.4,468.4 827.3,469.2 831.5,466.4 836.5,461.5 841.4,460.6 845.6,459.0 850.5,463.1 854.7,463.9 859.3,466.1 863.8,468.6 868.4,462.8 872.9,461.0 877.5,459.0 882.5,462.6 887.0,460.3 891.1,459.3 896.1,461.1 900.7,462.0 905.2,460.1 909.9,462.3 914.3,459.3 919.0,463.4 923.4,468.6 928.4,463.1 933.1,459.8 937.5,461.1 942.2,461.5 946.6,460.1 951.3,460.6 955.8,460.3 960.4,469.7 964.9,468.4 969.5,467.3 974.0,461.5 978.6,461.1 983.1,459.0 987.7,460.1 992.2,459.5 997.2,461.1 1000.0,460.6 1006.9,457.6 1015.4,456.2 1020.2,456.4" fill="none" stroke="#2c48f4" stroke-width="1.05" stroke-linejoin="round"/>
<path d="M0.0,333.0 C0.0,333.0 8.4,332.5 12.0,331.3 C15.6,330.1 20.9,328.0 24.0,325.0 C27.1,322.0 31.1,314.8 33.0,311.0 C35.0,307.2 35.8,303.2 37.0,300.0 C38.2,296.8 39.0,293.1 41.0,289.5 C43.0,285.9 47.5,279.4 50.0,275.8 C52.5,272.2 56.0,267.8 57.5,265.8 C58.5,264.6 59.2,263.3 60.0,262.8 C60.8,262.3 61.8,262.3 63.0,262.2 C64.8,262.1 68.8,261.6 72.0,262.2 C75.2,262.8 81.7,265.3 84.0,266.0 C85.3,266.4 86.2,267.0 87.2,266.8 C88.2,266.6 89.2,265.5 90.5,264.6 C93.3,262.6 101.3,258.4 105.7,253.5 C110.1,248.6 116.2,237.8 119.7,231.9 C123.2,226.0 126.3,218.5 129.3,213.9 C132.3,209.3 137.7,203.7 139.7,201.0 C141.1,199.2 140.9,197.5 142.8,196.2 C145.2,194.5 152.5,193.3 155.8,189.8 C159.1,186.3 162.1,177.0 164.8,172.8 C167.5,168.6 171.2,166.9 173.8,161.9 C176.6,156.4 181.1,142.2 183.7,135.9 C186.3,129.6 189.2,123.8 191.0,119.9 C192.8,116.0 193.9,113.9 195.7,110.0 C197.5,106.1 199.4,98.5 202.9,93.8 C206.4,89.1 214.8,81.8 218.8,78.4 C222.8,75.0 227.6,72.8 229.8,70.9 C231.8,69.3 231.9,67.6 233.8,65.9 C235.8,64.2 241.3,59.9 243.4,59.3 C245.4,58.7 246.4,61.4 247.8,61.9 C249.2,62.4 250.8,61.8 252.7,62.3 C254.8,62.8 259.1,63.2 261.7,65.3 C264.2,67.4 267.6,73.0 269.7,76.0 C271.8,79.0 274.2,81.6 276.0,85.0 C277.8,88.4 279.6,94.4 281.7,98.8 C283.8,103.2 287.9,111.1 290.0,114.3 C291.8,117.0 293.7,117.5 296.0,119.9 C298.7,122.7 304.8,131.8 307.8,132.8 C310.8,133.9 312.9,128.8 315.8,126.9 C318.7,125.0 324.6,120.6 326.8,119.9 C328.6,119.4 329.7,120.8 330.8,122.3 C332.8,125.1 337.0,134.7 339.8,138.8 C342.6,142.9 347.5,146.8 349.7,149.8 C351.9,152.8 353.3,154.7 354.7,158.5 C356.1,162.3 357.9,171.7 358.7,174.9 C359.2,176.9 359.6,177.9 360.0,180.0 C361.1,185.8 364.8,206.3 366.0,213.8 C367.0,220.2 367.1,225.3 368.0,230.0 C368.9,234.7 370.7,238.9 372.0,245.0 C373.3,251.4 374.2,263.8 376.9,272.9 C379.6,282.0 387.4,298.7 389.8,305.8 C391.7,311.3 391.8,315.6 392.8,320.0 C393.9,324.4 395.8,330.5 396.8,335.0 C397.9,339.5 398.6,346.7 399.8,350.0 C401.0,353.3 402.8,355.6 404.8,357.3 C406.8,359.0 411.1,361.7 413.4,361.5 C415.6,361.3 417.9,358.7 419.8,355.9 C422.2,352.4 427.0,343.1 429.7,338.0 C432.4,332.9 435.9,326.2 437.7,322.0 C439.5,317.8 440.4,314.8 441.7,309.8 C443.5,303.2 447.0,288.4 449.7,277.9 C452.4,267.4 458.1,246.0 459.7,240.0 C459.9,239.1 460.1,238.6 460.6,237.8 C461.9,235.8 465.7,228.5 468.6,226.8 C471.5,225.2 477.1,226.7 480.0,226.8 C482.9,226.9 485.4,227.9 488.0,227.2 C490.6,226.4 495.1,223.4 497.0,221.8 C498.9,220.2 499.1,218.2 501.0,216.8 C502.9,215.5 507.9,213.0 510.0,212.8 C512.1,212.6 513.0,214.2 514.9,215.4 C518.3,217.7 529.8,225.6 532.8,227.8 C533.8,228.5 534.4,228.9 534.8,230.0 C535.8,232.6 538.6,241.7 539.8,245.0 C540.8,247.9 541.4,249.3 542.8,252.0 C544.4,255.3 548.2,265.4 550.8,266.9 C553.4,268.4 556.8,261.3 560.4,261.9 C564.0,262.5 570.6,266.1 574.7,270.9 C578.8,275.7 584.2,288.4 587.7,293.8 C591.2,299.2 594.9,302.8 597.7,306.8 C600.5,310.9 603.9,318.6 606.6,320.8 C609.3,323.0 614.0,321.8 616.0,321.5 C617.9,321.2 618.7,320.2 620.0,318.8 C621.5,317.2 623.7,314.0 625.9,310.8 C628.1,307.6 631.6,298.4 634.9,297.2 C638.2,296.0 644.1,303.1 647.9,302.8 C651.6,302.5 656.3,294.9 659.9,295.2 C663.5,295.5 668.8,303.7 671.8,304.8 C674.8,305.9 677.5,305.1 679.8,302.8 C682.2,300.4 685.4,292.3 687.8,288.9 C690.2,285.5 693.4,280.8 695.8,279.9 C698.2,279.0 701.9,282.4 703.7,282.9 C705.2,283.3 707.0,284.8 707.7,283.3 C709.7,279.0 713.2,261.1 716.7,254.0 C720.2,246.9 728.0,239.0 730.8,236.0 C732.2,234.5 734.0,233.8 735.4,233.8 C736.8,233.8 738.0,236.6 739.8,235.8 C742.6,234.6 754.1,225.8 754.1,225.8 C754.1,225.8 756.1,235.6 757.7,241.0 C759.3,246.4 762.3,254.5 764.9,261.8 C767.5,269.2 772.8,283.5 774.9,290.0 C776.8,295.9 777.2,300.1 778.9,305.0 C780.5,309.9 783.5,317.7 785.9,322.9 C788.3,328.1 791.5,335.8 794.9,339.9 C798.3,343.9 805.2,349.3 808.8,349.9 C812.4,350.5 815.5,345.5 818.8,343.9 C822.1,342.2 828.1,341.1 830.8,338.9 C833.5,336.6 834.0,332.6 836.8,328.9 C840.7,323.8 853.3,309.0 856.7,305.0 C857.8,303.7 858.4,302.6 859.7,302.0 C861.1,301.4 863.9,302.6 865.7,301.0 C867.8,299.2 871.9,293.0 873.7,290.0 C875.5,287.0 875.0,283.1 877.7,280.8 C880.4,278.5 888.0,276.6 891.6,274.8 C895.2,273.0 899.3,271.8 902.0,268.8 C904.7,265.8 907.5,257.7 909.9,254.9 C912.3,252.1 915.8,250.2 917.9,250.3 C920.0,250.4 920.7,255.7 923.9,255.5 C927.2,255.3 935.1,251.5 939.9,248.9 C944.7,246.3 952.0,238.2 955.8,237.9 C959.6,237.6 962.4,246.5 965.4,246.9 C968.4,247.3 973.8,241.5 975.8,240.5 C976.9,240.0 977.7,241.0 978.8,240.5 C981.2,239.4 988.3,234.6 991.7,232.9 C995.1,231.2 999.3,231.7 1001.7,228.9 C1004.1,226.1 1005.8,218.3 1007.7,214.0 C1009.7,209.7 1012.9,203.4 1014.7,200.0 C1016.5,196.6 1019.8,191.2 1019.8,191.2" fill="none" stroke="#1e90ff" stroke-width="2.3" stroke-linejoin="round" stroke-linecap="round"/>
<line x1="198" y1="6" x2="1093" y2="166.8" stroke="#ff8c00" stroke-width="2.2" stroke-linecap="round"/>
<g style="filter:opacity(1)"><text x="234.5" y="11" font-size="11" fill="#0a0a0a">100.0%</text></g>
<g style="filter:opacity(1)"><text x="234.5" y="165.5" font-size="11" fill="#0a0a0a">61.8%</text></g>
<g style="filter:opacity(1)"><text x="234.5" y="214" font-size="11" fill="#0a0a0a">50.0%</text></g>
<g style="filter:opacity(1)"><text x="234.5" y="262" font-size="11" fill="#0a0a0a">38.2%</text></g>
<g style="filter:opacity(1)"><text x="234.5" y="321" font-size="11" fill="#0a0a0a">23.6%</text></g>
<g style="filter:opacity(1)"><text x="234.5" y="417" font-size="11" fill="#0a0a0a">0.0%</text></g>
<g style="filter:opacity(1)"><text x="1021" y="204" font-size="13" fill="#6a6af2">10-DMA</text></g>
<rect x="5" y="5" width="49" height="21" fill="#626262" fill-opacity="1" shape-rendering="crispEdges"/>
<rect x="5" y="5" width="2" height="21" fill="#267d69" shape-rendering="crispEdges"/>
<g style="filter:opacity(1)"><text x="15.8" y="19.6" font-size="11" font-weight="bold" fill="#ffffff">WTI</text></g>
<rect x="5" y="32" width="84" height="21" fill="#626262" fill-opacity="1" shape-rendering="crispEdges"/>
<rect x="5" y="32" width="2" height="21" fill="#1e90ff" shape-rendering="crispEdges"/>
<g style="filter:opacity(1)"><text x="15.8" y="45.7" font-size="11" font-weight="bold" fill="#ffffff">SMA (10,0)</text></g>
<rect x="5" y="436" width="110" height="21" fill="#0a0a0a" fill-opacity="0.63" shape-rendering="crispEdges"/>
<rect x="5" y="436" width="2" height="21" fill="#19e619" shape-rendering="crispEdges"/>
<g style="filter:opacity(1)"><text x="15.8" y="449.7" font-size="11" font-weight="bold" fill="#ffffff">RSI (14,70,30,1)</text></g>
<g shape-rendering="crispEdges">
<rect x="1149" y="26" width="5" height="1" fill="#8a8a8a"/>
<rect x="1149" y="51" width="5" height="1" fill="#8a8a8a"/>
<rect x="1149" y="76" width="5" height="1" fill="#8a8a8a"/>
<rect x="1149" y="102" width="5" height="1" fill="#8a8a8a"/>
<rect x="1149" y="127" width="5" height="1" fill="#8a8a8a"/>
<rect x="1149" y="152" width="5" height="1" fill="#8a8a8a"/>
<rect x="1149" y="178" width="5" height="1" fill="#8a8a8a"/>
<rect x="1149" y="203" width="5" height="1" fill="#8a8a8a"/>
<rect x="1149" y="229" width="5" height="1" fill="#8a8a8a"/>
<rect x="1149" y="254" width="5" height="1" fill="#8a8a8a"/>
<rect x="1149" y="279" width="5" height="1" fill="#8a8a8a"/>
<rect x="1149" y="305" width="5" height="1" fill="#8a8a8a"/>
<rect x="1149" y="330" width="5" height="1" fill="#8a8a8a"/>
<rect x="1149" y="355" width="5" height="1" fill="#8a8a8a"/>
<rect x="1149" y="381" width="5" height="1" fill="#8a8a8a"/>
<rect x="1149" y="406" width="5" height="1" fill="#8a8a8a"/>
<rect x="1149" y="466" width="5" height="1" fill="#8a8a8a"/>
<rect x="1149" y="499" width="5" height="1" fill="#8a8a8a"/>
</g>
<g style="filter:opacity(1)"><text x="1156" y="30.1" font-size="11" fill="#555555">66.00</text></g>
<g style="filter:opacity(1)"><text x="1156" y="55.1" font-size="11" fill="#555555">65.00</text></g>
<g style="filter:opacity(1)"><text x="1156" y="80.1" font-size="11" fill="#555555">64.00</text></g>
<g style="filter:opacity(1)"><text x="1156" y="106.1" font-size="11" fill="#555555">63.00</text></g>
<g style="filter:opacity(1)"><text x="1156" y="131.1" font-size="11" fill="#555555">62.00</text></g>
<g style="filter:opacity(1)"><text x="1156" y="156.1" font-size="11" fill="#555555">61.00</text></g>
<g style="filter:opacity(1)"><text x="1156" y="182.1" font-size="11" fill="#555555">60.00</text></g>
<g style="filter:opacity(1)"><text x="1156" y="207.1" font-size="11" fill="#555555">59.00</text></g>
<g style="filter:opacity(1)"><text x="1156" y="233.1" font-size="11" fill="#555555">58.00</text></g>
<g style="filter:opacity(1)"><text x="1156" y="258.1" font-size="11" fill="#555555">57.00</text></g>
<g style="filter:opacity(1)"><text x="1156" y="283.1" font-size="11" fill="#555555">56.00</text></g>
<g style="filter:opacity(1)"><text x="1156" y="309.1" font-size="11" fill="#555555">55.00</text></g>
<g style="filter:opacity(1)"><text x="1156" y="334.1" font-size="11" fill="#555555">54.00</text></g>
<g style="filter:opacity(1)"><text x="1156" y="359.1" font-size="11" fill="#555555">53.00</text></g>
<g style="filter:opacity(1)"><text x="1156" y="385.1" font-size="11" fill="#555555">52.00</text></g>
<g style="filter:opacity(1)"><text x="1156" y="410.1" font-size="11" fill="#555555">51.00</text></g>
<g style="filter:opacity(1)"><text x="1156" y="469.8" font-size="11" fill="#555555">50.00</text></g>
<g style="filter:opacity(1)"><text x="1156" y="503.3" font-size="11" fill="#555555">0.00</text></g>
<path d="M1149.5,165.5 L1151.5,162.5 V159.5 Q1151.5,158 1153,158 H1185.5 Q1187,158 1187,159.5 V172 Q1187,173.5 1185.5,173.5 H1153 Q1151.5,173.5 1151.5,172 V168.5 Z" fill="#2f4a76"/>
<g style="filter:opacity(1)"><text x="1156" y="169.7" font-size="11" font-weight="bold" fill="#ffffff">60.52</text></g>
<g shape-rendering="crispEdges">
<rect x="0" y="501" width="1" height="2" fill="#666666"/>
<rect x="64" y="501" width="1" height="2" fill="#666666"/>
<rect x="96" y="501" width="1" height="2" fill="#666666"/>
<rect x="128" y="501" width="1" height="2" fill="#666666"/>
<rect x="160" y="501" width="1" height="2" fill="#666666"/>
<rect x="192" y="501" width="1" height="2" fill="#666666"/>
<rect x="225" y="501" width="1" height="2" fill="#666666"/>
<rect x="261" y="501" width="1" height="2" fill="#666666"/>
<rect x="294" y="501" width="1" height="2" fill="#666666"/>
<rect x="326" y="501" width="1" height="2" fill="#666666"/>
<rect x="367" y="501" width="1" height="2" fill="#666666"/>
<rect x="399" y="501" width="1" height="2" fill="#666666"/>
<rect x="431" y="501" width="1" height="2" fill="#666666"/>
<rect x="459" y="501" width="1" height="2" fill="#666666"/>
<rect x="491" y="501" width="1" height="2" fill="#666666"/>
<rect x="523" y="501" width="1" height="2" fill="#666666"/>
<rect x="565" y="501" width="1" height="2" fill="#666666"/>
<rect x="597" y="501" width="1" height="2" fill="#666666"/>
<rect x="629" y="501" width="1" height="2" fill="#666666"/>
<rect x="666" y="501" width="1" height="2" fill="#666666"/>
<rect x="698" y="501" width="1" height="2" fill="#666666"/>
<rect x="730" y="501" width="1" height="2" fill="#666666"/>
<rect x="762" y="501" width="1" height="2" fill="#666666"/>
<rect x="794" y="501" width="1" height="2" fill="#666666"/>
<rect x="827" y="501" width="1" height="2" fill="#666666"/>
<rect x="868" y="501" width="1" height="2" fill="#666666"/>
<rect x="900" y="501" width="1" height="2" fill="#666666"/>
<rect x="932" y="501" width="1" height="2" fill="#666666"/>
<rect x="964" y="501" width="1" height="2" fill="#666666"/>
<rect x="997" y="501" width="1" height="2" fill="#666666"/>
<rect x="1029" y="501" width="1" height="2" fill="#666666"/>
<rect x="1066" y="501" width="1" height="2" fill="#666666"/>
<rect x="1093" y="501" width="1" height="2" fill="#666666"/>
<rect x="1121" y="501" width="1" height="2" fill="#666666"/>
</g>
<g style="filter:opacity(1)"><text x="0" y="517" font-size="11" fill="#555555">Feb</text></g>
<g style="filter:opacity(1)"><text x="64.5" y="517" font-size="11" fill="#555555" text-anchor="middle">Mar</text></g>
<g style="filter:opacity(1)"><text x="96.5" y="517" font-size="11" fill="#555555" text-anchor="middle">12</text></g>
<g style="filter:opacity(1)"><text x="128.5" y="517" font-size="11" fill="#555555" text-anchor="middle">21</text></g>
<g style="filter:opacity(1)"><text x="160.5" y="517" font-size="11" fill="#555555" text-anchor="middle">Apr</text></g>
<g style="filter:opacity(1)"><text x="192.5" y="517" font-size="11" fill="#555555" text-anchor="middle">10</text></g>
<g style="filter:opacity(1)"><text x="225.5" y="517" font-size="11" fill="#555555" text-anchor="middle">19</text></g>
<g style="filter:opacity(1)"><text x="261.5" y="517" font-size="11" fill="#555555" text-anchor="middle">May</text></g>
<g style="filter:opacity(1)"><text x="294.5" y="517" font-size="11" fill="#555555" text-anchor="middle">10</text></g>
<g style="filter:opacity(1)"><text x="326.5" y="517" font-size="11" fill="#555555" text-anchor="middle">21</text></g>
<g style="filter:opacity(1)"><text x="367.5" y="517" font-size="11" fill="#555555" text-anchor="middle">Jun</text></g>
<g style="filter:opacity(1)"><text x="399.5" y="517" font-size="11" fill="#555555" text-anchor="middle">12</text></g>
<g style="filter:opacity(1)"><text x="431.5" y="517" font-size="11" fill="#555555" text-anchor="middle">21</text></g>
<g style="filter:opacity(1)"><text x="459.5" y="517" font-size="11" fill="#555555" text-anchor="middle">Jul</text></g>
<g style="filter:opacity(1)"><text x="491.5" y="517" font-size="11" fill="#555555" text-anchor="middle">10</text></g>
<g style="filter:opacity(1)"><text x="523.5" y="517" font-size="11" fill="#555555" text-anchor="middle">19</text></g>
<g style="filter:opacity(1)"><text x="565.5" y="517" font-size="11" fill="#555555" text-anchor="middle">Aug</text></g>
<g style="filter:opacity(1)"><text x="597.5" y="517" font-size="11" fill="#555555" text-anchor="middle">12</text></g>
<g style="filter:opacity(1)"><text x="629.5" y="517" font-size="11" fill="#555555" text-anchor="middle">21</text></g>
<g style="filter:opacity(1)"><text x="666.5" y="517" font-size="11" fill="#555555" text-anchor="middle">Sep</text></g>
<g style="filter:opacity(1)"><text x="698.5" y="517" font-size="11" fill="#555555" text-anchor="middle">11</text></g>
<g style="filter:opacity(1)"><text x="730.5" y="517" font-size="11" fill="#555555" text-anchor="middle">20</text></g>
<g style="filter:opacity(1)"><text x="762.5" y="517" font-size="11" fill="#555555" text-anchor="middle">Oct</text></g>
<g style="filter:opacity(1)"><text x="794.5" y="517" font-size="11" fill="#555555" text-anchor="middle">10</text></g>
<g style="filter:opacity(1)"><text x="827.5" y="517" font-size="11" fill="#555555" text-anchor="middle">21</text></g>
<g style="filter:opacity(1)"><text x="868.5" y="517" font-size="11" fill="#555555" text-anchor="middle">Nov</text></g>
<g style="filter:opacity(1)"><text x="900.5" y="517" font-size="11" fill="#555555" text-anchor="middle">12</text></g>
<g style="filter:opacity(1)"><text x="932.5" y="517" font-size="11" fill="#555555" text-anchor="middle">21</text></g>
<g style="filter:opacity(1)"><text x="964.5" y="517" font-size="11" fill="#555555" text-anchor="middle">Dec</text></g>
<g style="filter:opacity(1)"><text x="997.5" y="517" font-size="11" fill="#555555" text-anchor="middle">11</text></g>
<g style="filter:opacity(1)"><text x="1029.5" y="517" font-size="11" fill="#555555" text-anchor="middle">20</text></g>
<g style="filter:opacity(1)"><text x="1066.5" y="517" font-size="11" fill="#555555" text-anchor="middle">Jan</text></g>
<g style="filter:opacity(1)"><text x="1093.5" y="517" font-size="11" fill="#555555" text-anchor="middle">9</text></g>
<g style="filter:opacity(1)"><text x="1121.5" y="517" font-size="11" fill="#555555" text-anchor="middle">17</text></g>
</svg>
</body></html>
